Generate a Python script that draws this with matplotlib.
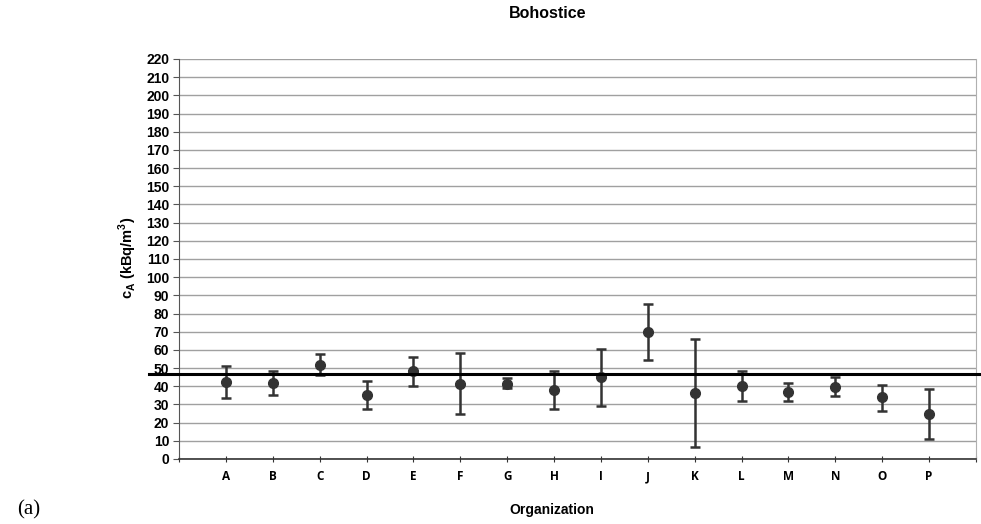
import matplotlib.pyplot as plt

# organisations and measured activity concentrations (kBq/m3)
orgs = ['A', 'B', 'C', 'D', 'E', 'F', 'G', 'H', 'I', 'J', 'K', 'L', 'M', 'N', 'O', 'P']
values = [42.4, 41.6, 51.5, 35.0, 48.2, 41.4, 41.4, 38.0, 45.1, 69.9, 36.1, 40.2, 36.9, 39.8, 33.9, 24.6]
upper = [51.0, 48.2, 57.6, 42.9, 55.9, 58.1, 44.4, 48.2, 60.7, 85.4, 66.2, 48.2, 42.0, 45.1, 40.7, 38.7]
lower = [33.7, 35.2, 46.0, 27.5, 40.2, 24.7, 39.2, 27.7, 29.3, 54.5, 6.4, 32.1, 32.1, 34.8, 26.6, 10.8]
reference = 46.9

plt.rcParams['font.family'] = ['Liberation Sans', 'DejaVu Sans']

fig = plt.figure(figsize=(9.81, 5.24), dpi=100)
ax = fig.add_axes([179 / 981, 1 - 459 / 524, 797 / 981, 400 / 524])

x = list(range(1, len(orgs) + 1))
err_lo = [v - l for v, l in zip(values, lower)]
err_hi = [u - v for v, u in zip(values, upper)]
ax.errorbar(x, values, yerr=[err_lo, err_hi], fmt='o', color='#333333',
            markersize=7, elinewidth=1.8, capsize=3.5, capthick=1.8, zorder=3)

# reference value line, running a bit past the plot area
ax.axhline(reference, xmin=-0.038, xmax=1.01, color='black', linewidth=2.2,
           clip_on=False, zorder=4)

ax.set_xlim(0, len(orgs) + 1)
ax.set_ylim(0, 220)
ax.set_yticks(range(0, 221, 10))
ax.set_xticks(range(0, len(orgs) + 2))
ax.set_xticklabels([''] + orgs + [''])
ax.yaxis.grid(True, color='#a0a0a0', linewidth=1)
ax.set_axisbelow(True)

ax.spines['top'].set_visible(False)
ax.spines['right'].set_color('#b0b0b0')
ax.spines['left'].set_color('#555555')
ax.spines['bottom'].set_color('#333333')
ax.spines['bottom'].set_linewidth(1.2)

ax.tick_params(axis='y', length=4, labelsize=10, pad=3, color='#555555')
ax.tick_params(axis='x', length=4, labelsize=8.5, pad=6, direction='inout', color='#333333')
for lab in ax.get_yticklabels():
    lab.set_fontweight('bold')
for lab in ax.get_xticklabels():
    lab.set_fontweight('bold')
    lab.set_family(['Open Sans', 'DejaVu Sans'])

fig.text(548 / 981, 1 - 14 / 524, 'Bohostice', ha='center', va='center',
         fontsize=11.5, fontweight='bold')
fig.text(128 / 981, 1 - 258 / 524, r'c$_\mathregular{A}$ (kBq/m$^\mathregular{3}$)',
         rotation=90, ha='center', va='center', fontsize=10.5, fontweight='bold')
fig.text(552 / 981, 1 - 510 / 524, 'Organization', ha='center', va='center',
         fontsize=10, fontweight='bold')
fig.text(29 / 981, 1 - 510 / 524, '(a)', ha='center', va='center',
         fontsize=15, family='Liberation Serif')

fig.savefig('out.png', dpi=100)
